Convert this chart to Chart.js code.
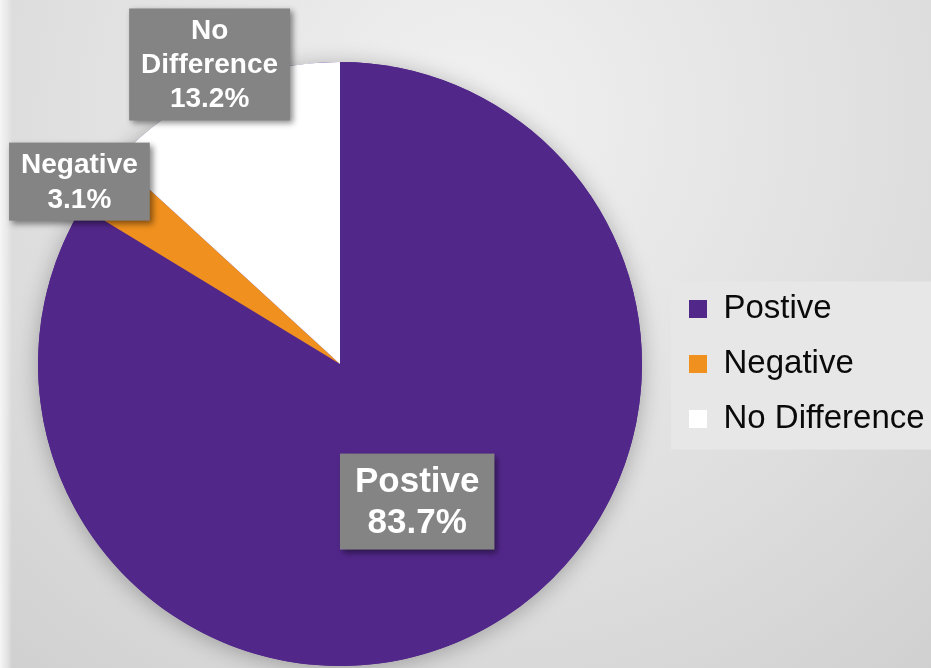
<!DOCTYPE html>
<html>
<head>
<meta charset="utf-8">
<script src="https://cdn.jsdelivr.net/npm/chart.js@4/dist/chart.umd.min.js"></script>
<style>
  html, body { margin: 0; padding: 0; background: #dcdcdc; }
  #wrap { width: 931px; height: 668px; }
</style>
</head>
<body>
<div id="wrap"><canvas id="pie" width="931" height="668"></canvas></div>
<script>
const categories = ['Postive', 'Negative', 'No Difference']
const shares = [83.7, 3.1, 13.2]
const sliceColors = ['#52278a', '#f0901e', '#ffffff']
// how the data labels wrap on the slices
const labelLines = [['Postive'], ['Negative'], ['No', 'Difference']]

const FONT = '"Liberation Sans", Arial, sans-serif'

// label placement, as a share of the radius from the centre, plus a small nudge
const labelDist = [0.515, 1.05, 1.08]
const labelNudge = [[1, 2], [-7, 8], [1, -1]]
const labelSize = [35, 28, 28]
const labelLead = [41, 35, 34]
const labelPadX = [30, 24, 24]
const labelPadY = [14, 8, 10]

const background = {
  id: 'background',
  beforeDraw(chart) {
    const { ctx, width, height } = chart
    ctx.save()
    const g = ctx.createRadialGradient(470, 120, 0, 470, 120, 820)
    g.addColorStop(0, '#f1f1f1')
    g.addColorStop(0.55, '#dedede')
    g.addColorStop(1, '#cbcbcb')
    ctx.fillStyle = g
    ctx.fillRect(0, 0, width, height)
    const s = ctx.createLinearGradient(0, 0, 12, 0)
    s.addColorStop(0, '#f6f6f6')
    s.addColorStop(0.6, 'rgba(240,240,240,0.6)')
    s.addColorStop(1, 'rgba(240,240,240,0)')
    ctx.fillStyle = s
    ctx.fillRect(0, 0, 12, height)

    // lighter panel behind the legend
    const boxes = chart.legend.legendHitBoxes
    if (boxes && boxes.length) {
      const last = boxes[boxes.length - 1]
      const top = boxes[0].top - 11
      const bottom = last.top + last.height + 14
      ctx.fillStyle = '#e7e7e7'
      ctx.fillRect(chart.legend.left + 4, top, width - chart.legend.left - 4, bottom - top)
    }
    ctx.restore()
  },
}

const pieShadow = {
  id: 'pieShadow',
  beforeDatasetsDraw(chart) {
    const arc = chart.getDatasetMeta(0).data[0]
    if (!arc) return
    const { x, y, outerRadius } = arc.getProps(['x', 'y', 'outerRadius'], true)
    const ctx = chart.ctx
    ctx.save()
    ctx.shadowColor = 'rgba(0,0,0,0.28)'
    ctx.shadowBlur = 22
    ctx.shadowOffsetY = 3
    ctx.fillStyle = '#52278a'
    ctx.beginPath()
    ctx.arc(x, y, outerRadius, 0, Math.PI * 2)
    ctx.fill()
    ctx.restore()
  },
}

const sliceLabels = {
  id: 'sliceLabels',
  afterDatasetsDraw(chart) {
    const ctx = chart.ctx
    const meta = chart.getDatasetMeta(0)
    meta.data.forEach((arc, i) => {
      const { x, y, startAngle, endAngle, outerRadius } = arc.getProps(
        ['x', 'y', 'startAngle', 'endAngle', 'outerRadius'],
        true
      )
      const mid = (startAngle + endAngle) / 2
      const cx = x + Math.cos(mid) * outerRadius * labelDist[i] + labelNudge[i][0]
      const cy = y + Math.sin(mid) * outerRadius * labelDist[i] + labelNudge[i][1]
      const lines = labelLines[i].concat([shares[i].toFixed(1) + '%'])

      ctx.save()
      ctx.font = 'bold ' + labelSize[i] + 'px ' + FONT
      const w = Math.max(...lines.map((t) => ctx.measureText(t).width)) + labelPadX[i]
      const h = lines.length * labelLead[i] + labelPadY[i]
      ctx.shadowColor = 'rgba(0,0,0,0.45)'
      ctx.shadowBlur = 6
      ctx.shadowOffsetX = 3
      ctx.shadowOffsetY = 3
      ctx.fillStyle = '#848484'
      ctx.fillRect(cx - w / 2, cy - h / 2, w, h)
      ctx.shadowColor = 'transparent'
      ctx.fillStyle = '#ffffff'
      ctx.textAlign = 'center'
      ctx.textBaseline = 'middle'
      const y0 = cy - ((lines.length - 1) * labelLead[i]) / 2
      lines.forEach((t, k) => ctx.fillText(t, cx, y0 + k * labelLead[i] + 1))
      ctx.restore()
    })
  },
}

const ctx = document.getElementById('pie').getContext('2d')
// eslint-disable-next-line no-unused-vars
const myChart = new Chart(ctx, {
  type: 'pie',
  data: {
    labels: categories,
    datasets: [
      {
        data: shares,
        backgroundColor: sliceColors,
        borderWidth: 0,
      },
    ],
  },
  options: {
    responsive: false,
    animation: false,
    layout: {
      padding: { left: 13, top: 62, bottom: 2, right: 0 },
    },
    plugins: {
      tooltip: { enabled: false },
      legend: {
        position: 'right',
        maxWidth: 264,
        labels: {
          boxWidth: 18,
          boxHeight: 18,
          padding: 22,
          color: '#0a0a0a',
          font: { family: FONT, size: 33 },
        },
      },
    },
  },
  plugins: [background, pieShadow, sliceLabels],
})
</script>
</body>
</html>
